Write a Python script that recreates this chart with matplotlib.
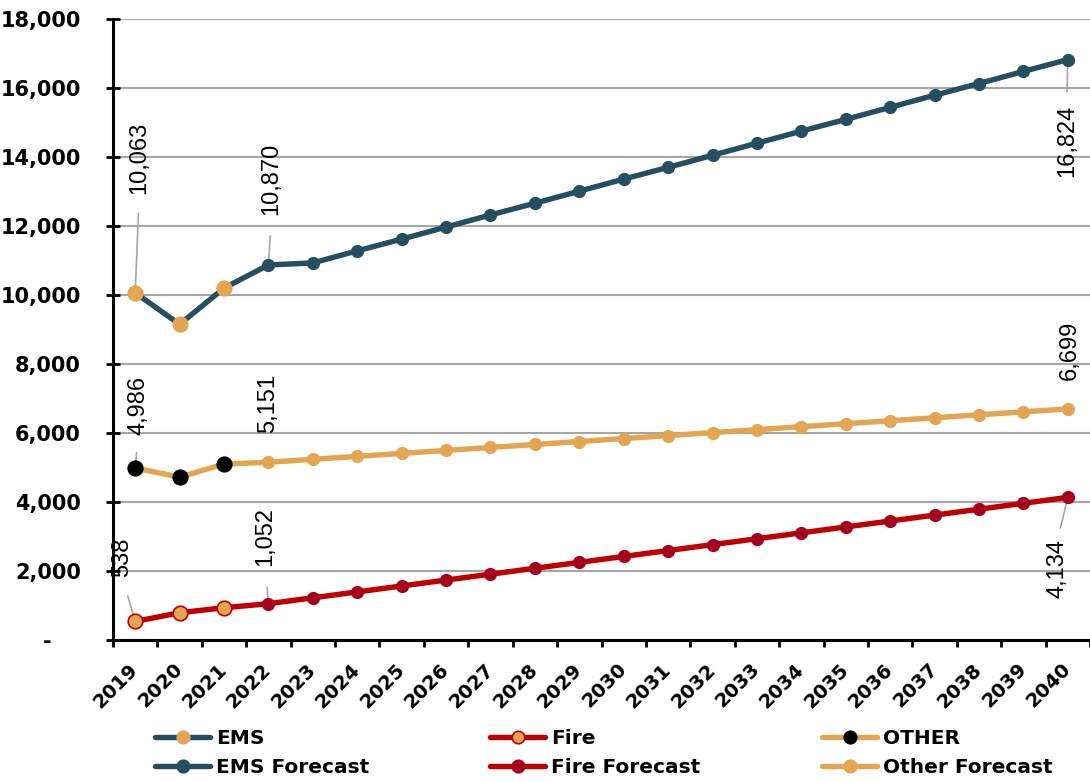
import matplotlib
matplotlib.use("Agg")
import matplotlib.pyplot as plt
from matplotlib.lines import Line2D
from matplotlib.ticker import FuncFormatter, MultipleLocator

# ---- data -------------------------------------------------------------
years = list(range(2019, 2041))

ems_actual = [10063, 9150, 10200]
ems_forecast = [10870, 10930, 11280, 11620, 11970, 12320, 12660, 13010, 13360,
                13700, 14050, 14400, 14750, 15090, 15440, 15790, 16130, 16480,
                16824]

fire_actual = [538, 790, 935]
fire_forecast = [1052, 1223, 1394, 1566, 1737, 1908, 2079, 2250, 2422, 2593,
                 2764, 2935, 3106, 3277, 3449, 3620, 3791, 3962, 4134]

other_actual = [4986, 4720, 5100]
other_forecast = [5151, 5237, 5323, 5409, 5495, 5581, 5667, 5753, 5839, 5925,
                  6011, 6097, 6183, 6269, 6355, 6441, 6527, 6613, 6699]

# ---- styling ----------------------------------------------------------
C_EMS = "#254F60"
C_ORANGE = "#E3A552"
C_RED = "#C00000"
C_DKRED = "#A5001E"
C_GRID = "#A6A6A6"
TICK_FONT = "DejaVu Sans"
LABEL_FONT = "Liberation Sans"

fig = plt.figure(figsize=(10.9, 7.82), dpi=100)
ax = fig.add_axes([113 / 1090, 1 - 640 / 782, 977 / 1090, 621 / 782])

x = list(range(len(years)))
n_act = len(ems_actual)
x_act = x[:n_act]
x_fc = x[n_act:]

LW = 3.9


def draw_series(actual, forecast, line_c, act_face, act_edge, fc_face, z):
    # history line runs into the first forecast point
    ax.plot(x_act + [x_fc[0]], actual + [forecast[0]], color=line_c, lw=LW,
            solid_capstyle="round", zorder=z)
    ax.plot(x_fc, forecast, color=line_c, lw=LW, solid_capstyle="round",
            zorder=z)
    ax.plot(x_act, actual, ls="none", marker="o", ms=10.5, mfc=act_face,
            mec=act_edge, mew=1.2, zorder=z + 0.5)
    ax.plot(x_fc, forecast, ls="none", marker="o", ms=8.5, mfc=fc_face,
            mec=fc_face, zorder=z + 0.5)


draw_series(ems_actual, ems_forecast, C_EMS, C_ORANGE, C_ORANGE, C_EMS, 4)
draw_series(other_actual, other_forecast, C_ORANGE, "black", "black",
            C_ORANGE, 4)
draw_series(fire_actual, fire_forecast, C_RED, C_ORANGE, C_RED, C_DKRED, 5)

# ---- data labels --------------------------------------------------------
def label(xi, yi, dx, dy, leader=True, gap=12):
    up = dy > 0
    props = None
    if leader:
        props = dict(arrowstyle="-", color=C_GRID, lw=1.2,
                     shrinkA=gap, shrinkB=0,
                     relpos=(0.5, 0.0) if up else (0.5, 1.0))
    ax.annotate(f"{yi:,}", xy=(xi, yi), xytext=(dx, dy),
                textcoords="offset pixels", rotation=90,
                ha="center", va="center", fontsize=17,
                family=LABEL_FONT, color="black", arrowprops=props,
                zorder=3, annotation_clip=False)


label(x[0], ems_actual[0], 4, 135, gap=12)
label(x_fc[0], ems_forecast[0], 3, 86, gap=13)
label(x[-1], ems_forecast[-1], -1, -81, gap=7)
label(x[0], other_actual[0], 3, 63, gap=11)
label(x_fc[0], other_forecast[0], 0, 59, leader=False)
label(x[-1], other_forecast[-1], 2, 59, leader=False)
label(x[0], fire_actual[0], -13, 64, gap=12)
label(x_fc[0], fire_forecast[0], -3, 67, gap=13)
label(x[-1], fire_forecast[-1], -10, -71, gap=6)

# ---- axes -------------------------------------------------------------
ax.set_xlim(-0.5, len(years) - 0.5)
ax.set_ylim(0, 18000)
ax.yaxis.set_major_locator(MultipleLocator(2000))
ax.yaxis.set_major_formatter(
    FuncFormatter(lambda v, p: "-    " if v == 0 else f"{v:,.0f}"))
ax.grid(axis="y", color=C_GRID, lw=1.5, zorder=0)
ax.set_axisbelow(True)

for s in ("top", "right"):
    ax.spines[s].set_visible(False)
for s in ("left", "bottom"):
    ax.spines[s].set_linewidth(2.2)
    ax.spines[s].set_color("black")

ax.tick_params(axis="y", direction="inout", length=10, width=2,
               labelsize=15, pad=18)
for t in ax.get_yticklabels():
    t.set_fontweight("bold")
    t.set_family(TICK_FONT)

ax.set_xticks(x)
ax.set_xticklabels([str(y) for y in years], rotation=45, ha="right",
                   va="center", rotation_mode="anchor",
                   fontsize=14, fontweight="bold", family=TICK_FONT)
ax.set_xticks([i - 0.5 for i in range(len(years) + 1)], minor=True)
ax.tick_params(axis="x", which="major", length=0, pad=19)
ax.tick_params(axis="x", which="minor", direction="out", length=5, width=2)

# ---- legend -----------------------------------------------------------
def handle(line_c, face, edge):
    return Line2D([], [], color=line_c, lw=LW, solid_capstyle="round",
                  marker="o", ms=9, mfc=face, mec=edge, mew=1.2)


columns = [
    (155, [handle(C_EMS, C_ORANGE, C_ORANGE), handle(C_EMS, C_EMS, C_EMS)],
     ["EMS", "EMS Forecast"]),
    (490, [handle(C_RED, C_ORANGE, C_RED), handle(C_RED, C_DKRED, C_DKRED)],
     ["Fire", "Fire Forecast"]),
    (822, [handle(C_ORANGE, "black", "black"),
           handle(C_ORANGE, C_ORANGE, C_ORANGE)],
     ["OTHER", "Other Forecast"]),
]
for left, hs, labs in columns:
    fig.legend(hs, labs, loc="center left",
               bbox_to_anchor=(left / 1090, 1 - 753 / 782),
               frameon=False, borderpad=0, borderaxespad=0,
               handlelength=2.75, handletextpad=0.3, labelspacing=0.5,
               prop=dict(family=TICK_FONT, weight="bold", size=14.5))

fig.savefig("out.png", dpi=100)
